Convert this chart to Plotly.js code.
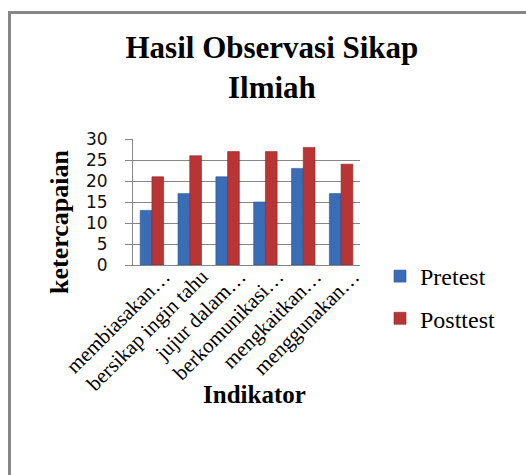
<!DOCTYPE html>
<html>
<head>
<meta charset="utf-8">
<script src="https://cdn.plot.ly/plotly-3.0.1.min.js"></script>
<style>
  html, body { margin: 0; padding: 0; background: #fff; overflow: hidden; }
  #wrap { position: relative; width: 526px; height: 475px; overflow: hidden; }
  #chart { position: absolute; left: 0; top: 0; width: 526px; height: 475px; }
  #frame { position: absolute; left: 8px; top: 11px; width: 620px; height: 620px;
           border: 3px solid #878787; pointer-events: none; box-sizing: border-box; }
</style>
</head>
<body>
<div id="wrap">
  <div id="chart"></div>
  <div id="frame"></div>
</div>
<script>
const categories = ["membiasakan…", "bersikap ingin tahu", "jujur dalam…", "berkomunikasi…", "mengkaitkan…", "menggunakan…"];
const pretest = [13, 17, 21, 15, 23, 17];
const posttest = [21, 26, 27, 27, 28, 24];
const seriesNames = ["Pretest", "Posttest"];
const yTicks = [0, 5, 10, 15, 20, 25, 30];
const chartTitle = "Hasil Observasi Sikap<br>Ilmiah";
const xTitle = "Indikator";
const yTitle = "ketercapaian";

const serif = "Liberation Serif";

const traces = [
  {
    type: "bar", name: seriesNames[0], x: categories, y: pretest,
    legendgroup: "a",
    marker: { color: "#3A6DB5", line: { color: "#2A5590", width: 0.6 } }
  },
  {
    type: "bar", name: seriesNames[1], x: categories, y: posttest,
    legendgroup: "b",
    marker: { color: "#B93434", line: { color: "#8E2323", width: 0.6 } }
  }
];

const layout = {
  width: 526, height: 475,
  font: { family: serif, color: "#000" },
  paper_bgcolor: "#ffffff", plot_bgcolor: "#ffffff",
  margin: { l: 133, r: 166, t: 139, b: 210 },
  barmode: "group", bargap: 0.38, bargroupgap: 0,
  title: {
    text: "<b>" + chartTitle + "</b>",
    font: { family: serif, size: 31, color: "#000" },
    x: 0.517, xref: "container", xanchor: "center",
    y: 1 - 58 / 475, yref: "container", yanchor: "top"
  },
  showlegend: true,
  legend: {
    xref: "container", yref: "container",
    x: 380 / 526, xanchor: "left",
    y: 1 - 254 / 475, yanchor: "top",
    font: { family: serif, size: 24, color: "#000" },
    traceorder: "grouped", tracegroupgap: 8,
    bgcolor: "rgba(0,0,0,0)", borderwidth: 0
  },
  xaxis: {
    type: "category",
    showline: true, linecolor: "#868686", linewidth: 1,
    showgrid: false, ticks: "",
    tickangle: -45,
    tickfont: { family: serif, size: 21, color: "#000" },
    ticklabelshift: 12,
    ticklabelstandoff: -10
  },
  yaxis: {
    range: [0, 30], tickvals: yTicks, ticktext: yTicks.map(String),
    showline: true, linecolor: "#868686", linewidth: 1,
    showgrid: true, gridcolor: "#868686", gridwidth: 1,
    ticks: "outside", ticklen: 7, tickcolor: "#868686",
    ticklabelstandoff: 14,
    tickfont: { family: "DejaVu Sans", size: 17, color: "#111" },
    zeroline: false
  },
  annotations: [
    {
      text: "<b>" + xTitle + "</b>", showarrow: false,
      xref: "paper", yref: "paper",
      x: (254 - 133) / 227, y: -(394 - 265) / 126,
      xanchor: "center", yanchor: "middle",
      font: { family: serif, size: 25, color: "#000" }
    },
    {
      text: "<b>" + yTitle + "</b>", showarrow: false, textangle: -90,
      xref: "paper", yref: "paper",
      x: -(133 - 59) / 227, y: -(222 - 265) / 126,
      xanchor: "center", yanchor: "middle",
      font: { family: serif, size: 26, color: "#000" }
    }
  ]
};

Plotly.newPlot("chart", traces, layout, { staticPlot: true, displayModeBar: false });
</script>
</body>
</html>
